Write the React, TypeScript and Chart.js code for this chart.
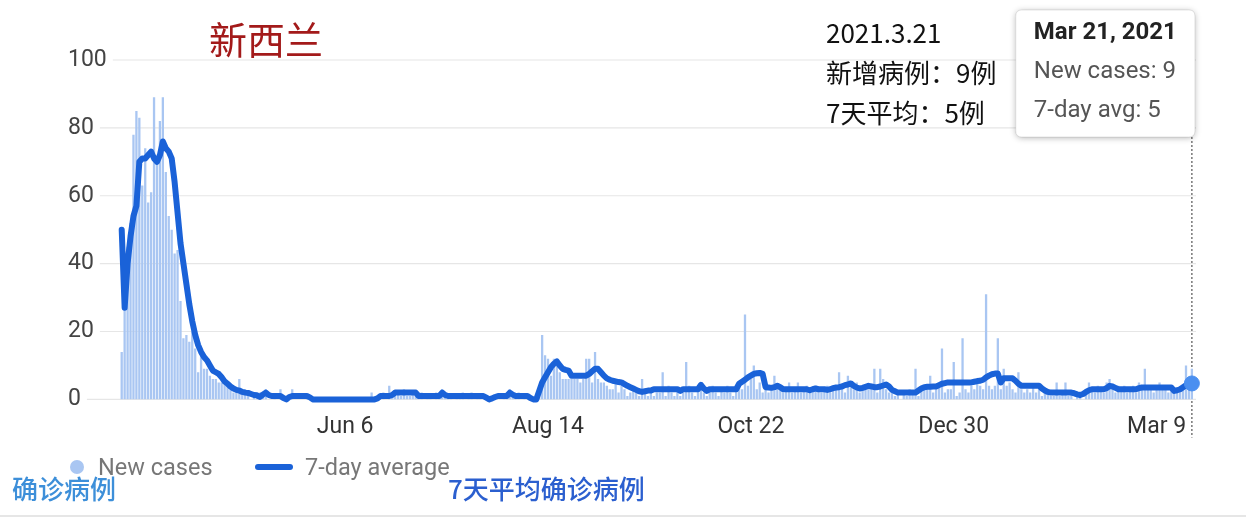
import React, { useEffect, useRef } from "react";
import { Chart, registerables, Tooltip } from "chart.js";

Chart.register(...registerables);

// daily values from Mar 22, 2020 to Mar 21, 2021 (one row per week)
const newCases = [
  14, 36, 45, 52, 78, 85, 83,
  63, 74, 58, 61, 89, 71, 82,
  89, 67, 54, 50, 43, 44, 29,
  18, 19, 17, 20, 15, 8, 13,
  9, 9, 7, 6, 6, 5, 5,
  5, 5, 3, 2, 3, 6, 2,
  3, 2, 0, 2, 1, 2, 2,
  3, 0, 0, 1, 0, 3, 0,
  0, 0, 3, 0, 0, 0, 0,
  1, 0, 0, 0, 0, 0, 0,
  0, 0, 0, 0, 0, 0, 0,
  0, 0, 0, 0, 0, 0, 0,
  0, 2, 0, 1, 1, 2, 0,
  4, 1, 1, 2, 1, 3, 1,
  1, 2, 1, 1, 2, 0, 1,
  1, 0, 2, 1, 3, 1, 1,
  1, 0, 1, 1, 2, 0, 1,
  2, 0, 1, 1, 1, 0, 0,
  0, 1, 0, 0, 1, 2, 3,
  1, 1, 2, 0, 1, 0, 0,
  0, 0, 4, 19, 13, 12, 7,
  12, 10, 8, 6, 6, 6, 6,
  6, 6, 5, 6, 12, 12, 5,
  14, 6, 5, 5, 4, 3, 3,
  5, 2, 4, 3, 1, 2, 3,
  3, 1, 6, 3, 1, 2, 1,
  2, 2, 8, 1, 4, 2, 1,
  3, 1, 2, 11, 4, 2, 1,
  3, 5, 2, 1, 3, 4, 2,
  1, 3, 2, 4, 2, 1, 3,
  4, 3, 25, 4, 6, 10, 3,
  5, 2, 3, 2, 3, 7, 4,
  4, 2, 3, 5, 2, 3, 5,
  2, 3, 4, 2, 3, 4, 3,
  2, 3, 4, 2, 4, 3, 8,
  3, 2, 7, 4, 3, 5, 2,
  4, 3, 3, 3, 9, 2, 9,
  6, 3, 2, 3, 1, 2, 0,
  2, 1, 3, 2, 9, 1, 4,
  3, 4, 7, 2, 3, 4, 15,
  2, 3, 3, 11, 1, 2, 18,
  3, 2, 4, 3, 5, 4, 3,
  31, 4, 3, 4, 18, 3, 9,
  4, 5, 3, 2, 8, 3, 2,
  3, 2, 4, 2, 3, 1, 2,
  2, 1, 1, 5, 1, 2, 5,
  1, 2, 0, 1, 1, 0, 2,
  5, 3, 2, 4, 3, 2, 5,
  6, 3, 2, 4, 3, 4, 2,
  3, 4, 2, 5, 3, 9, 3,
  3, 2, 4, 5, 3, 4, 2,
  4, 3, 2, 3, 4, 10, 3,
  9,
];

const sevenDayAvg = [
  50, 27, 40, 48, 54, 57, 70,
  71, 71, 72, 73, 71, 70, 72,
  76, 74, 73, 71, 64, 55, 46,
  40, 34, 28, 23, 19, 16, 14,
  12.5, 11.5, 10, 8.5, 8, 7.5, 6.5,
  5.3, 4.6, 3.8, 3.2, 2.8, 2.6, 2.2,
  2, 1.9, 1.6, 1.3, 1.2, 0.7, 1.4,
  2, 1.3, 1, 1, 1, 1, 0.4,
  0, 0.7, 1, 1, 1, 1, 1,
  1, 0.6, 0, 0, 0, 0, 0,
  0, 0, 0, 0, 0, 0, 0,
  0, 0, 0, 0, 0, 0, 0,
  0, 0, 0, 0.3, 1, 1, 1,
  1, 1.3, 2, 2, 2, 2, 2,
  2, 2, 2, 1, 1, 1, 1,
  1, 1, 1, 1, 2, 1.3, 1,
  1, 1, 1, 1, 1, 1, 1,
  1, 1, 1, 1, 1, 0.5, 0,
  0.3, 0.7, 1, 1, 1, 1, 2,
  1.4, 1, 1, 1, 1, 1, 0.4,
  0, 0, 2.5, 5, 6.5, 8, 9.5,
  10.5, 11.2, 10, 9, 8.7, 8.5, 7,
  7, 7, 7, 7, 7, 7.5, 8.3,
  9, 9, 8, 7, 6.2, 5.8, 5.5,
  5.3, 5.1, 5, 4.5, 4, 3.6, 3.2,
  2.8, 2.4, 2.2, 2.4, 2.6, 2.6, 3,
  3, 3, 3, 3, 3, 3, 3,
  3, 2.5, 3, 3, 3, 3, 3,
  3, 4.3, 3.2, 2.5, 3, 3, 3,
  3, 3, 3, 3, 3, 3, 3,
  4.6, 5.2, 5.8, 6.5, 7, 7.5, 7.7,
  7.8, 7.5, 3.6, 3.5, 3.4, 3.6, 4,
  3.6, 3, 3, 3, 3, 3, 3,
  3, 3, 3, 2.7, 3, 3.2, 3,
  3, 3, 2.8, 3, 3.3, 3.5, 3.6,
  3.8, 4.2, 4.4, 4.7, 4, 3.5, 3.2,
  3.4, 3.7, 4, 3.8, 3.6, 3.6, 3.8,
  4.1, 4.4, 3.8, 2.8, 2.4, 2, 2,
  2, 2, 2, 2, 2, 2.6, 3.2,
  3.6, 3.7, 3.7, 3.8, 3.8, 4.2, 4.6,
  4.8, 5, 5, 5, 5, 5, 5,
  5, 5, 5, 5.2, 5.4, 5.5, 5.8,
  6.5, 7, 7.4, 7.6, 7.6, 5, 6.2,
  6.2, 6.2, 6.2, 5.5, 4.6, 4, 4,
  4, 4, 4, 4, 4, 3.2, 2.6,
  2.2, 2, 2, 2, 2, 2, 2,
  2, 2, 1.8, 1.5, 1.3, 1.6, 2.2,
  2.7, 3, 3, 3, 3, 3, 3.3,
  4, 3.8, 3.4, 3, 3, 3, 3,
  3, 3, 3, 3.3, 3.5, 3.5, 3.5,
  3.5, 3.5, 3.5, 3.5, 3.5, 3.5, 3.5,
  3.5, 2.5, 2.7, 3, 3.6, 4.2, 4.5,
  4.7,
];

const startDate = Date.UTC(2020, 2, 22);
const tickIndex = [76, 145, 214, 283, 352];
const tickLabels = ["Jun 6", "Aug 14", "Oct 22", "Dec 30", "Mar 9"];
const yTicks = [0, 20, 40, 60, 80, 100];
const highlightIndex = newCases.length - 1;

const barColor = "#a9c6f2";
const lineColor = "#1a62d8";
const axisFont = { family: "Roboto", size: 23 };

const dayLabel = (i: number) =>
  new Date(startDate + i * 86400000).toLocaleDateString("en-US", {
    month: "short",
    day: "numeric",
    year: "numeric",
    timeZone: "UTC",
  });

// tooltip pinned to the top right corner, above the hovered day
(Tooltip.positioners as any).topRightCorner = function (elements: any[]) {
  if (!elements.length) return false;
  return { x: elements[0].element.x - 3, y: 10 };
};

const hoverGuide = {
  id: "hoverGuide",
  beforeDatasetsDraw(chart: any) {
    const ctx = chart.ctx;
    // horizontal grid lines start just after each (left aligned) tick label
    const yScale = chart.scales.y;
    ctx.save();
    ctx.font = `${axisFont.size}px ${axisFont.family}`;
    ctx.strokeStyle = "#e6e6e6";
    ctx.lineWidth = 1.2;
    yScale.ticks.forEach((t: any) => {
      const y = yScale.getPixelForValue(t.value);
      const w = ctx.measureText(String(t.value)).width;
      ctx.beginPath();
      ctx.moveTo(yScale.left + w + 6, y);
      ctx.lineTo(chart.chartArea.right, y);
      ctx.stroke();
    });
    ctx.restore();

    const tt = chart.tooltip;
    const active = tt ? tt.getActiveElements() : [];
    if (!active.length) return;
    const x = active[0].element.x;
    ctx.save();
    ctx.strokeStyle = "#555";
    ctx.lineWidth = 1.2;
    ctx.setLineDash([2, 2]);
    ctx.beginPath();
    ctx.moveTo(x, tt.y + tt.height);
    ctx.lineTo(x, chart.chartArea.bottom + 38);
    ctx.stroke();
    ctx.restore();
  },
  beforeTooltipDraw(chart: any, args: any) {
    const tt = args.tooltip;
    if (!tt.opacity) return;
    const ctx = chart.ctx;
    ctx.save();
    ctx.shadowColor = "rgba(0,0,0,0.28)";
    ctx.shadowBlur = 6;
    ctx.shadowOffsetY = 1;
    ctx.fillStyle = "#fff";
    ctx.beginPath();
    ctx.roundRect(tt.x, tt.y, tt.width, tt.height, 6);
    ctx.fill();
    ctx.restore();
  },
};

function CasesChart() {
  const canvasRef = useRef<HTMLCanvasElement | null>(null);

  useEffect(() => {
    if (!canvasRef.current) return;
    const ctx = canvasRef.current.getContext("2d");
    if (!ctx) return;

    const chart = new Chart(ctx, {
      data: {
        datasets: [
          {
            type: "bar",
            label: "New cases",
            data: newCases.map((v, i) => ({ x: i, y: v })),
            backgroundColor: barColor,
            hoverBackgroundColor: barColor,
            categoryPercentage: 1,
            barPercentage: 0.78,
            order: 2,
          },
          {
            type: "line",
            label: "7-day average",
            data: sevenDayAvg.map((v, i) => ({ x: i, y: v })),
            borderColor: lineColor,
            borderWidth: 6,
            borderJoinStyle: "round",
            borderCapStyle: "round",
            pointRadius: 0,
            pointHoverRadius: 7.5,
            pointHoverBackgroundColor: "#4a8ff0",
            pointHoverBorderColor: "#4a8ff0",
            pointHoverBorderWidth: 1,
            tension: 0,
            clip: false,
            order: 1,
          },
        ],
      },
      options: {
        animation: false,
        responsive: true,
        maintainAspectRatio: false,
        events: [],
        layout: { padding: { left: 68, right: 50, top: 60, bottom: 75 } },
        scales: {
          x: {
            type: "linear",
            offset: false,
            min: -3.3,
            max: 365.4,
            grid: { display: false },
            border: { display: false },
            afterBuildTicks: (scale: any) => {
              scale.ticks = tickIndex.map((v) => ({ value: v }));
            },
            ticks: {
              autoSkip: false,
              maxRotation: 0,
              padding: 6,
              color: "#333",
              font: axisFont,
              callback: (v: any) => tickLabels[tickIndex.indexOf(v)] ?? "",
            },
          },
          y: {
            min: 0,
            max: 100,
            afterBuildTicks: (scale: any) => {
              scale.ticks = yTicks.map((v) => ({ value: v }));
            },
            afterFit: (scale: any) => {
              scale.width = 44;
            },
            grid: { display: false },
            border: { display: false },
            ticks: { padding: 5, crossAlign: "far", color: "#444", font: axisFont },
          },
        },
        plugins: {
          legend: { display: false },
          tooltip: {
            enabled: true,
            position: "topRightCorner" as any,
            xAlign: "right",
            yAlign: "top",
            caretSize: 0,
            caretPadding: 0,
            cornerRadius: 6,
            backgroundColor: "#fff",
            borderColor: "rgba(0,0,0,0.10)",
            borderWidth: 1,
            displayColors: false,
            titleColor: "#222",
            titleFont: { family: "Roboto", size: 24, weight: "bold" },
            titleMarginBottom: 10.2,
            bodyColor: "#555",
            bodyFont: { family: "Roboto", size: 24 },
            bodySpacing: 10.2,
            padding: { top: 8.6, bottom: 11.6, left: 18, right: 18 },
            callbacks: {
              title: (items: any[]) => dayLabel(items[0].dataIndex),
              label: (item: any) =>
                item.datasetIndex === 0
                  ? `New cases: ${item.parsed.y}`
                  : `7-day avg: ${Math.round(item.parsed.y)}`,
            },
          },
        },
      },
      plugins: [hoverGuide],
    } as any);

    chart.setActiveElements([{ datasetIndex: 1, index: highlightIndex }]);
    chart.tooltip?.setActiveElements(
      [
        { datasetIndex: 0, index: highlightIndex },
        { datasetIndex: 1, index: highlightIndex },
      ],
      { x: 0, y: 0 }
    );
    chart.update();

    return () => {
      chart.destroy();
    };
  }, []);

  return <canvas ref={canvasRef}></canvas>;
}

const cjk = '"Noto Sans CJK SC", "Noto Sans", sans-serif';
const latin = 'Roboto, "Noto Sans", sans-serif';

export default function App() {
  return (
    <div
      style={{
        position: "absolute",
        left: 0,
        top: 0,
        width: 1246,
        height: 522,
        background: "#fff",
        overflow: "hidden",
      }}
    >
      <div style={{ position: "absolute", inset: 0 }}>
        <CasesChart />
      </div>

      <div style={{ position: "absolute", left: 209, top: 17, fontFamily: cjk, fontSize: 38, lineHeight: "42px", color: "#a31a1a" }}>
        新西兰
      </div>

      <div style={{ position: "absolute", left: 826, top: 12, fontFamily: cjk, fontSize: 26, lineHeight: "40px", color: "#111" }}>
        <div>2021.3.21</div>
        <div>新增病例：9例</div>
        <div>7天平均：5例</div>
      </div>

      {/* legend */}
      <div style={{ position: "absolute", left: 70, top: 460, width: 14, height: 14, borderRadius: "50%", background: barColor }} />
      <div style={{ position: "absolute", left: 98, top: 453, fontFamily: latin, fontSize: 23.5, lineHeight: "28px", color: "#777" }}>
        New cases
      </div>
      <div style={{ position: "absolute", left: 255, top: 464, width: 38, height: 6, borderRadius: 3, background: lineColor }} />
      <div style={{ position: "absolute", left: 305, top: 453, fontFamily: latin, fontSize: 23.5, lineHeight: "28px", color: "#777" }}>
        7-day average
      </div>

      <div style={{ position: "absolute", left: 12, top: 472, fontFamily: cjk, fontSize: 26, lineHeight: "32px", color: "#3d8fd9", fontWeight: 500 }}>
        确诊病例
      </div>
      <div style={{ position: "absolute", left: 448, top: 472, fontFamily: cjk, fontSize: 26, lineHeight: "32px", color: "#2b5fcf", fontWeight: 500 }}>
        7天平均确诊病例
      </div>

      <div style={{ position: "absolute", left: 0, top: 515, width: 1246, height: 2, background: "#e6e6e6" }} />
    </div>
  );
}
